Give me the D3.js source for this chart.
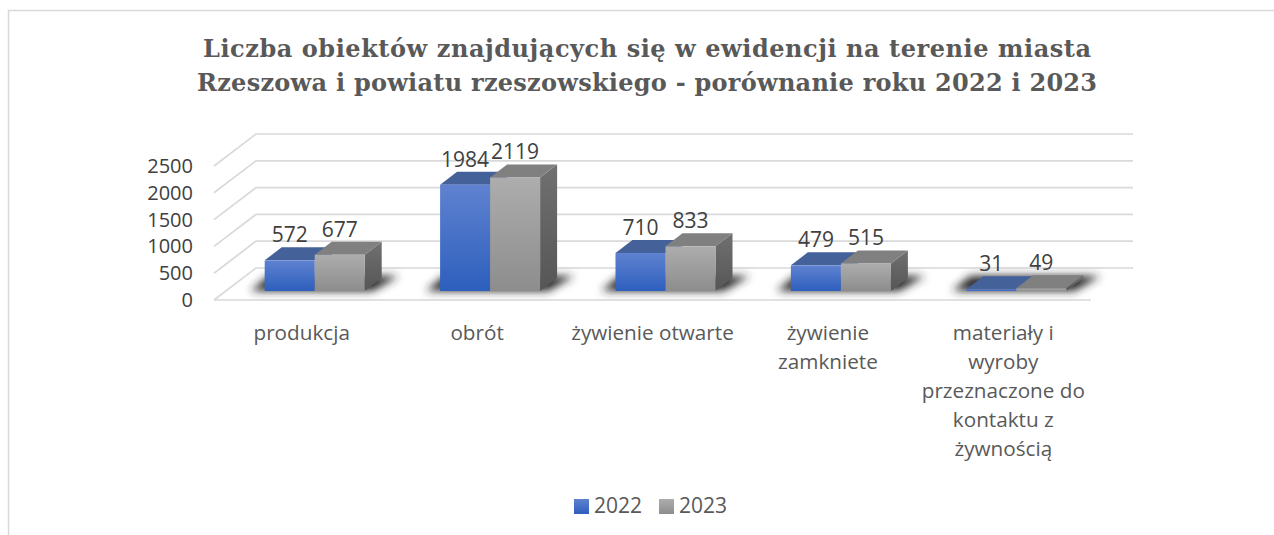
<!DOCTYPE html>
<html lang="pl">
<head>
<meta charset="utf-8">
<script src="https://cdn.jsdelivr.net/npm/d3@7"></script>
<style>
  html, body { margin: 0; background: #fff; }
  svg { display: block; }
  text { font-family: "Open Sans", "Noto Sans", sans-serif; }
  .title { font-family: "DejaVu Serif", serif; font-weight: bold; font-size: 24px; fill: #595959; }
</style>
</head>
<body>
<div id="chart"></div>
<script>
const titleLines = [
  "Liczba obiektów znajdujących się w ewidencji na terenie miasta",
  "Rzeszowa i powiatu rzeszowskiego - porównanie roku 2022 i 2023"
];
const categories = [
  ["produkcja"],
  ["obrót"],
  ["żywienie otwarte"],
  ["żywienie", "zamkniete"],
  ["materiały i", "wyroby", "przeznaczone do", "kontaktu z", "żywnością"]
];
const seriesNames = ["2022", "2023"];
const values2022 = [572, 1984, 710, 479, 31];
const values2023 = [677, 2119, 833, 515, 49];
const yTicks = [0, 500, 1000, 1500, 2000, 2500];

const width = 1274;
const height = 535;

// floor and wall of the fake 3d box
const floorLeft = 214;
const floorRight = 1091;
const floorY = 300;
const wallDx = 42;
const wallDy = -32;
// bars stand a bit behind the front edge of the floor
const barDx = 13;
const barDy = -9;
// depth of the bars themselves
const depthX = 17;
const depthY = -13;

const svg = d3.select("#chart").append("svg")
  .attr("width", width)
  .attr("height", height);

const defs = svg.append("defs");

function addGradient(id, top, bottom) {
  const g = defs.append("linearGradient")
    .attr("id", id)
    .attr("x1", 0).attr("y1", 0).attr("x2", 0).attr("y2", 1);
  g.append("stop").attr("offset", "0%").attr("stop-color", top);
  g.append("stop").attr("offset", "100%").attr("stop-color", bottom);
}
addGradient("front2022", "#5f82d0", "#2d5fbd");
addGradient("front2023", "#adadad", "#8d8d8d");
addGradient("side2023", "#707070", "#565656");

defs.append("filter")
  .attr("id", "blur")
  .attr("x", "-30%").attr("y", "-80%").attr("width", "160%").attr("height", "260%")
  .append("feGaussianBlur")
  .attr("stdDeviation", 4);

// frame, only left and top edges show in the picture
svg.append("path")
  .attr("d", `M8.5,535V10.5H1274`)
  .attr("fill", "none")
  .attr("stroke", "#d9d9d9")
  .attr("stroke-width", 1.5);

// widths of the two title lines differ from the font here, so fit them
const titleWidths = [888, 900];
svg.append("g").selectAll("text")
  .data(titleLines)
  .join("text")
  .attr("class", "title")
  .attr("x", 647)
  .attr("y", (d, i) => 57 + i * 34)
  .attr("text-anchor", "middle")
  .attr("textLength", (d, i) => titleWidths[i])
  .attr("lengthAdjust", "spacing")
  .text(d => d);

const y = d3.scaleLinear().domain([0, 2500]).range([0, 134]);

const xFront = d3.scaleBand()
  .domain(d3.range(categories.length))
  .range([floorLeft, floorRight]);

const xBars = d3.scaleBand()
  .domain(d3.range(categories.length))
  .range([floorLeft + barDx, floorRight + barDx]);

const xSeries = d3.scaleBand()
  .domain(seriesNames)
  .range([0, 100]);

const barOffset = (xBars.bandwidth() - xSeries.range()[1]) / 2;
const barBase = floorY + barDy;
const bw = xSeries.bandwidth();

// grid on the wall and side wall
const grid = svg.append("g")
  .attr("fill", "none")
  .attr("stroke", "#d9d9d9")
  .attr("stroke-width", 1.7);

grid.selectAll("path")
  .data(yTicks)
  .join("path")
  .attr("d", d => {
    const front = floorY - y(d);
    const wx = floorLeft + wallDx;
    const wy = front + wallDy;
    return `M${floorLeft},${front}L${wx},${wy}H${floorRight + wallDx}`;
  });

grid.append("path")
  .attr("d", `M${floorLeft},${floorY}H${floorRight}`);

// shadows on the floor
const shadows = svg.append("g").attr("filter", "url(#blur)");
shadows.selectAll("path")
  .data(categories)
  .join("path")
  .attr("fill", "#262626")
  .attr("d", (d, i) => {
    const x0 = xBars(i) + barOffset;
    const x1 = x0 + 100;
    return `M${x0 - 14},${barBase}H${x1 + 8}L${x1 + 34},${barBase - 15}H${x0 + 4}Z`;
  });

const rows = seriesNames.map((name, s) => ({
  name,
  values: s === 0 ? values2022 : values2023
}));

const barColors = {
  "2022": { front: "url(#front2022)", top: "#446199", side: "#3a5a9a" },
  "2023": { front: "url(#front2023)", top: "#808080", side: "url(#side2023)" }
};

const barGroups = svg.append("g").selectAll("g")
  .data(rows)
  .join("g");

barGroups.each(function (row) {
  const g = d3.select(this);
  const c = barColors[row.name];
  const cells = g.selectAll("g")
    .data(row.values)
    .join("g")
    .attr("transform", (d, i) => `translate(${xBars(i) + barOffset + xSeries(row.name)},0)`);

  cells.append("path")
    .attr("fill", c.side)
    .attr("d", d => {
      const top = barBase - y(d);
      return `M${bw},${barBase}V${top}l${depthX},${depthY}V${barBase + depthY}Z`;
    });
  cells.append("path")
    .attr("fill", c.top)
    .attr("d", d => {
      const top = barBase - y(d);
      return `M0,${top}l${depthX},${depthY}H${bw + depthX}L${bw},${top}Z`;
    });
  cells.append("rect")
    .attr("width", bw)
    .attr("y", d => barBase - y(d))
    .attr("height", d => y(d))
    .attr("fill", c.front);
  cells.append("text")
    .attr("x", bw / 2)
    .attr("y", d => barBase - y(d) - 18)
    .attr("text-anchor", "middle")
    .attr("font-size", 21)
    .attr("fill", "#404040")
    .text(d => d);
});

// value axis
svg.append("g").selectAll("text")
  .data(yTicks)
  .join("text")
  .attr("x", 193)
  .attr("y", d => floorY - y(d) + 7)
  .attr("text-anchor", "end")
  .attr("font-size", 20)
  .attr("fill", "#404040")
  .text(d => d);

// category labels
const catLabels = svg.append("g").selectAll("text")
  .data(categories)
  .join("text")
  .attr("text-anchor", "middle")
  .attr("font-size", 20.7)
  .attr("fill", "#595959");

catLabels.selectAll("tspan")
  .data((d, i) => d.map(line => ({ line, i })))
  .join("tspan")
  .attr("x", d => xFront(d.i) + xFront.bandwidth() / 2)
  .attr("y", (d, k) => 340 + k * 29)
  .text(d => d.line);

// legend
const legend = svg.append("g").selectAll("g")
  .data(seriesNames)
  .join("g")
  .attr("transform", (d, i) => `translate(${574 + i * 85},499)`);

legend.append("rect")
  .attr("width", 15)
  .attr("height", 15)
  .attr("fill", d => barColors[d].front);

legend.append("text")
  .attr("x", 20)
  .attr("y", 14)
  .attr("font-size", 21)
  .attr("fill", "#595959")
  .text(d => d);
</script>
</body>
</html>
